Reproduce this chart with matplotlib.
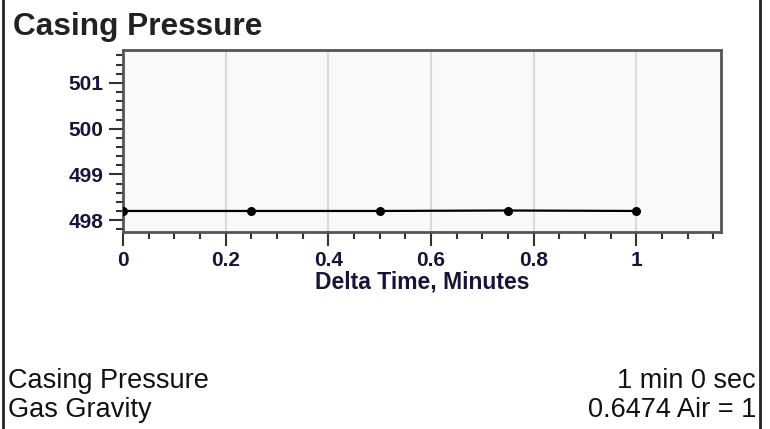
import numpy as np
import matplotlib.pyplot as plt
from matplotlib.ticker import MultipleLocator
from matplotlib.lines import Line2D

# datos
delta_t = [0.0, 0.25, 0.5, 0.75, 1.0]
presion = [498.2, 498.2, 498.2, 498.21, 498.2]

titulo = "Casing Pressure"
etiqueta_x = "Delta Time, Minutes"
filas_izq = ["Casing Pressure", "Gas Gravity"]
filas_der = ["1 min 0 sec", "0.6474 Air = 1"]

plt.rcParams['font.family'] = ['Liberation Sans', 'DejaVu Sans']

fig = plt.figure(figsize=(7.7, 4.29), dpi=100)
ax = fig.add_axes([123/770, 1 - 232/429, (721 - 123)/770, (232 - 50)/429])
ax.set_facecolor('#f9f9f9')

ax.plot(delta_t, presion, color='black', linewidth=1.6, marker='o', markersize=5.5, zorder=3)

ax.set_xlim(0, 1.165)
ax.set_ylim(497.74, 501.72)
ax.xaxis.set_major_locator(MultipleLocator(0.2))
ax.xaxis.set_minor_locator(MultipleLocator(0.05))
ax.yaxis.set_major_locator(MultipleLocator(1))
ax.yaxis.set_minor_locator(MultipleLocator(0.2))
ax.xaxis.set_major_formatter(plt.FuncFormatter(lambda v, p: f"{v:g}"))

ax.grid(axis='x', which='major', color='#d9d9d9', linewidth=1.5)
ax.set_axisbelow(True)

for s in ax.spines.values():
    s.set_color('#555555')
    s.set_linewidth(2)

ax.tick_params(which='major', direction='out', length=10, width=1.5, color='#333333',
               labelsize=15, labelcolor='#15153a', pad=4)
ax.tick_params(which='minor', direction='out', length=5, width=1.5, color='#333333')
for lab in ax.get_xticklabels() + ax.get_yticklabels():
    lab.set_fontweight('bold')

ax.set_xlabel(etiqueta_x, fontsize=16.5, fontweight='bold', color='#15153a', labelpad=0)

fig.text(13/770, 1 - 27/429, titulo, fontsize=22.8, fontweight='bold', color='#222222',
         va='center', ha='left')

for i, (a, b) in enumerate(zip(filas_izq, filas_der)):
    y = 1 - (381 + i * 29) / 429
    fig.text(8/770, y, a, fontsize=19.5, color='#111111', va='center', ha='left')
    fig.text(756/770, y, b, fontsize=19.5, color='#111111', va='center', ha='right')

# bordes laterales
fig.add_artist(Line2D([3/770, 3/770], [0, 1], color='#222222', linewidth=2, transform=fig.transFigure))
fig.add_artist(Line2D([760/770, 760/770], [0, 1], color='#222222', linewidth=2, transform=fig.transFigure))

fig.savefig('out.png', dpi=100)
